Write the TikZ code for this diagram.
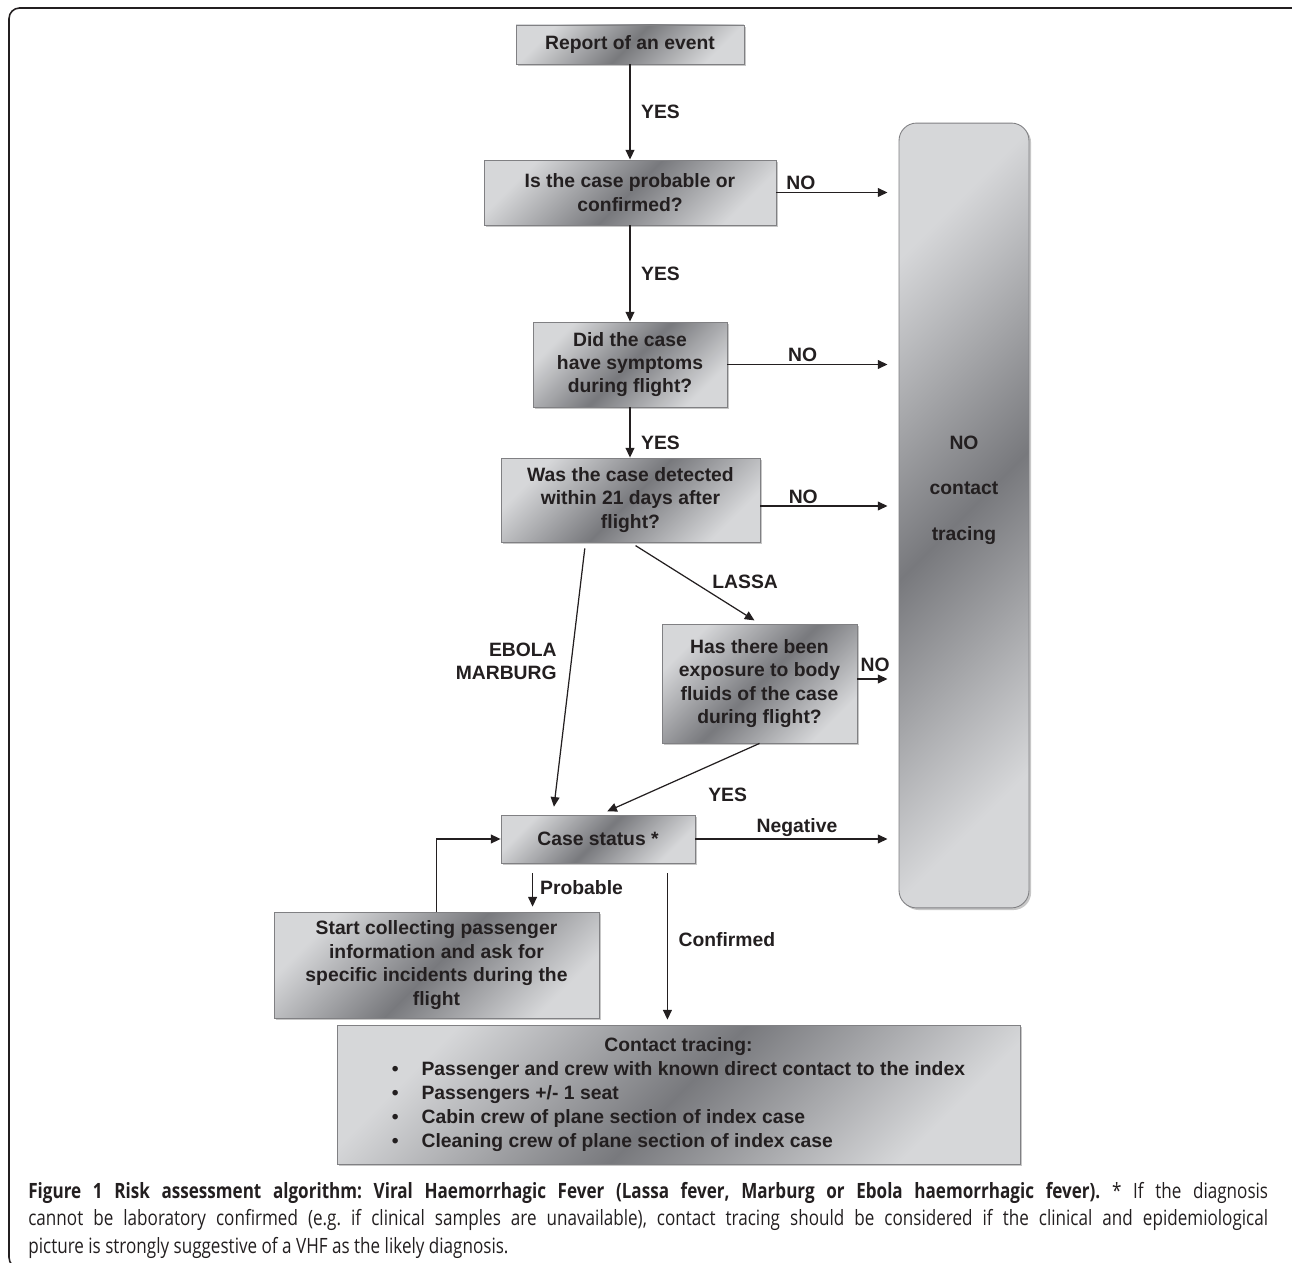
\documentclass[tikz,border=0pt]{standalone}
\usepackage{fontspec}
\setmainfont{Liberation Sans}
\newfontfamily\capfont[FakeStretch=0.81]{Open Sans}
\usetikzlibrary{arrows.meta,shadows}
\definecolor{boxlight}{RGB}{214,215,217}
\definecolor{boxdark}{RGB}{120,121,125}
\definecolor{boxline}{RGB}{128,128,131}
\definecolor{ink}{RGB}{35,31,32}
\hyphenpenalty=10000
\frenchspacing

\begin{document}
\begin{tikzpicture}[x=0.02cm,y=-0.02cm,
  box/.style={draw=boxline, line width=0.5pt, top color=boxlight, bottom color=boxlight, middle color=boxdark, shading angle=45,
    drop shadow={shadow xshift=1.2pt, shadow yshift=-1.2pt, fill=black!22, opacity=1},
    text=ink, font=\fontsize{11}{13.3}\selectfont\bfseries, align=center, inner sep=2pt},
  flow/.style={draw=ink, line width=0.7pt, -{Triangle[length=5.5pt,width=5pt]}},
  lbl/.style={text=ink, font=\fontsize{11}{13.3}\selectfont\bfseries, inner sep=1pt, align=center}]
\useasboundingbox (0,0) rectangle (1292,1263);
\draw[line width=0.9pt, draw=ink, rounded corners=6pt] (9,8) rectangle (1305,1268);

% boxes
\node[box, minimum width=4.56cm, minimum height=0.78cm] (report) at (630,44.5) {Report of an event};
\node[box, minimum width=5.84cm, minimum height=1.30cm] (prob) at (630,192.5) {Is the case probable or\\confirmed?};
\node[box, minimum width=3.88cm, minimum height=1.70cm] (symp) at (630,364.5) {Did the case\\have symptoms\\during flight?};
\node[box, minimum width=5.18cm, minimum height=1.68cm] (detect) at (630.5,500) {Was the case detected\\within 21 days after\\flight?};
\node[box, minimum width=3.90cm, minimum height=2.38cm] (expo) at (759.5,683.5) {Has there been\\exposure to body\\fluids of the case\\during flight?};
\node[box, minimum width=3.88cm, minimum height=0.96cm] (status) at (598,839) {Case status *};
\node[box, minimum width=6.50cm, minimum height=2.12cm] (collect) at (436.5,965) {Start collecting passenger\\information and ask for\\specific incidents during the\\flight};
\node[box, minimum width=13.66cm, minimum height=2.78cm] (trace) at (678.5,1094.5) {\renewcommand\arraystretch{1.03}%
  \begin{tabular}{@{}c@{\hspace{13pt}}l@{}}
  \multicolumn{2}{c}{Contact tracing:}\\
  \textbullet & Passenger and crew with known direct contact to the index\\
  \textbullet & Passengers +/- 1 seat\\
  \textbullet & Cabin crew of plane section of index case\\
  \textbullet & Cleaning crew of plane section of index case
  \end{tabular}};
\node[box, rounded corners=10pt, minimum width=2.60cm, minimum height=15.70cm] (nobox) at (964,515.5) {};
\node[lbl] (notext) at (964,490) {NO\\[12.6pt]contact\\[12.6pt]tracing};

% main line
\draw[flow] (report) -- node[lbl, right=5pt] (yesA) {YES} (prob);
\draw[flow] (prob) -- node[lbl, right=5pt] (yesB) {YES} (symp);
\draw[flow] (symp.south) -- (symp.south |- detect.north) node[lbl, pos=0.7, right=5pt] (yesC) {YES};

% no branches
\draw[flow, shorten >=6.3pt] (prob.east) -- (prob.east -| nobox.west) node[lbl, pos=0.2, above] (noA) {NO};
\draw[flow, shorten >=6.3pt] (symp.east) -- (symp.east -| nobox.west) node[lbl, pos=0.44, above] (noB) {NO};
\draw[flow, shorten >=6.3pt] ([yshift=-0.12cm]detect.east) -- ([yshift=-0.12cm]detect.east -| nobox.west) node[lbl, pos=0.31, above] (noC) {NO};
\draw[flow, shorten >=6.3pt] ([yshift=0.09cm]expo.east) -- ([yshift=0.09cm]expo.east -| nobox.west) node[lbl, pos=0.43, above=3pt] (noD) {NO};
\draw[flow, shorten >=6.3pt] (status.east) -- (status.east -| nobox.west) node[lbl, pos=0.5, above] (neg) {Negative};

% virus branches
\draw[flow, shorten <=3.4pt, shorten >=4.5pt] ([xshift=-0.9cm]detect.south) -- ([xshift=-0.9cm]status.north) node[lbl, align=right, pos=0.436, left=7pt] (ebola) {EBOLA\\MARBURG};
\draw[flow, shorten <=3.4pt, shorten >=3.4pt] (detect.south) -- (expo.north) node[lbl, pos=0.48, right=10pt] (lassa) {LASSA};
\draw[flow, shorten >=4.5pt] (expo.south) -- ([xshift=0.04cm]status.north) node[lbl, pos=0.2, below=16pt] (yesD) {YES};

% case status
\draw[flow, shorten <=5.7pt, shorten >=2.8pt] ([xshift=0.64cm]status.south west) -- ([xshift=0.64cm]status.south west |- collect.north) node[lbl, midway, right=3pt] (probable) {Probable};
\draw[flow, shorten <=5.7pt, shorten >=2.8pt] ([xshift=-0.56cm]status.south east) -- ([xshift=-0.56cm]status.south east |- trace.north) node[lbl, pos=0.47, right=5pt] (confirmed) {Confirmed};
\draw[flow] (collect.north) |- (status.west);

% caption
\node[anchor=north west, inner sep=0pt, text width=24.8cm, align=justify, text=ink, font=\capfont\fontsize{12}{15.6}\selectfont] (caption) at (28,1182) {\textbf{Figure 1 Risk assessment algorithm: Viral Haemorrhagic Fever (Lassa fever, Marburg or Ebola haemorrhagic fever).} * If the diagnosis\linebreak cannot be laboratory confirmed (e.g. if clinical samples are unavailable), contact tracing should be considered if the clinical and epidemiological\linebreak picture is strongly suggestive of a VHF as the likely diagnosis.};
\end{tikzpicture}
\end{document}
